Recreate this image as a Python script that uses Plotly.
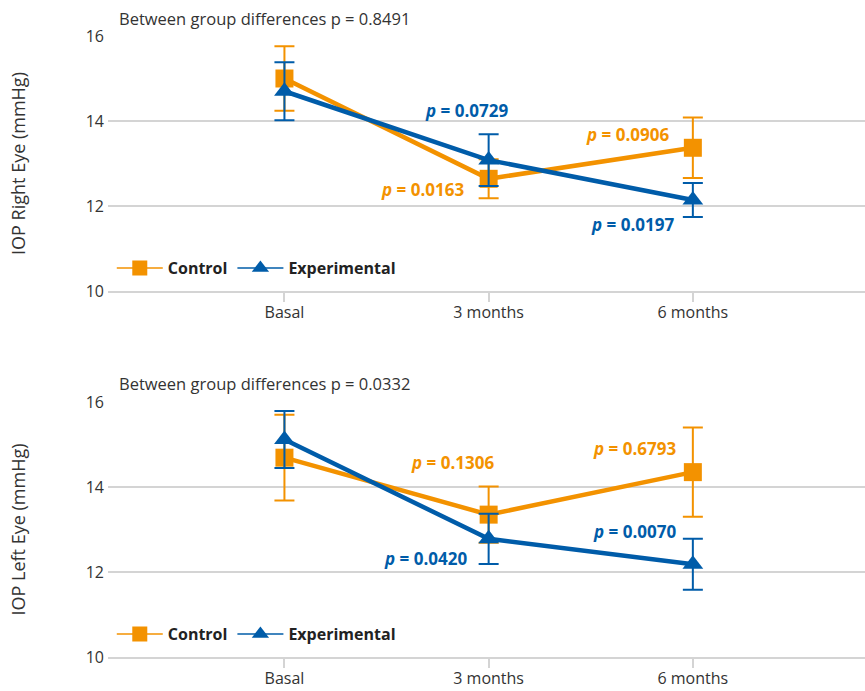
import plotly.graph_objects as go
from plotly.subplots import make_subplots

# Visit labels and positions on the numeric x axis
categories = ["Basal", "3 months", "6 months"]
cat_pos = [0, 1, 2]

# Right eye IOP (mmHg): mean and error
right_control = [15.00, 12.64, 13.37]
right_control_err = [0.76, 0.46, 0.71]
right_exp = [14.70, 13.08, 12.14]
right_exp_err = [0.68, 0.61, 0.40]

# Left eye IOP (mmHg): mean and error
left_control = [14.69, 13.35, 14.35]
left_control_err = [1.01, 0.66, 1.05]
left_exp = [15.12, 12.78, 12.18]
left_exp_err = [0.67, 0.59, 0.60]

# Within-group p values shown beside the points
right_control_p = ["0.0163", "0.0906"]
right_exp_p = ["0.0729", "0.0197"]
left_control_p = ["0.1306", "0.6793"]
left_exp_p = ["0.0420", "0.0070"]
between_p = ["0.8491", "0.0332"]

ORANGE = "#F39200"
BLUE = "#005CA9"
GRID = "#D4D4D4"
TEXT = "#333333"
FONT = "Open Sans"

fig = make_subplots(rows=2, cols=1, vertical_spacing=0.0)

def add_group(row, y, err, color, symbol, name, legend):
    fig.add_trace(go.Scatter(
        x=cat_pos, y=y, mode="lines+markers", name=name, showlegend=False,
        line=dict(color=color, width=4.5),
        marker=dict(symbol=symbol, size=18, color=color),
        error_y=dict(type="data", array=err, visible=True, color=color,
                     thickness=2, width=10),
    ), row=row, col=1)
    # thin legend entry
    fig.add_trace(go.Scatter(
        x=[None], y=[None], mode="lines+markers", name=name, showlegend=True,
        legend=legend,
        line=dict(color=color, width=1.5),
        marker=dict(symbol=symbol, size=15, color=color),
    ), row=row, col=1)

add_group(1, right_control, right_control_err, ORANGE, "square", "Control", "legend")
add_group(1, right_exp, right_exp_err, BLUE, "triangle-up", "Experimental", "legend")
add_group(2, left_control, left_control_err, ORANGE, "square", "Control", "legend2")
add_group(2, left_exp, left_exp_err, BLUE, "triangle-up", "Experimental", "legend2")

# layout geometry
fig.update_layout(
    width=865, height=691,
    margin=dict(l=108, r=0, t=36, b=34),
    paper_bgcolor="white", plot_bgcolor="white",
    font=dict(family=FONT, color=TEXT, size=16),
)
top_bottom = (657 - 291) / 621
bot_top = (657 - 402) / 621
fig.update_layout(
    yaxis=dict(domain=[top_bottom, 1.0]),
    yaxis2=dict(domain=[0.0, bot_top]),
)

for r in (1, 2):
    fig.update_xaxes(
        row=r, col=1, range=[-0.864, 2.843], tickvals=cat_pos, ticktext=categories,
        showgrid=False, zeroline=False, showline=True, linecolor=GRID, linewidth=1.5,
        ticks="outside", ticklen=9, tickcolor=GRID, tickwidth=1.5,
        ticklabelstandoff=-3,
        tickfont=dict(family=FONT, size=16, color=TEXT),
    )
    fig.update_yaxes(
        row=r, col=1, range=[10, 16], tickvals=[10, 12, 14, 16],
        showgrid=True, gridcolor=GRID, gridwidth=1.5, zeroline=False, showline=False,
        ticks="", ticklabelstandoff=3,
        tickfont=dict(family=FONT, size=16, color=TEXT),
        title=dict(text="IOP Right Eye (mmHg)" if r == 1 else "IOP Left Eye (mmHg)",
                   font=dict(family=FONT, size=18, color=TEXT), standoff=55),
    )

legend_style = dict(orientation="h", bgcolor="rgba(0,0,0,0)", xanchor="left",
                    yanchor="middle", xref="paper", yref="paper",
                    font=dict(family=FONT, size=16, color="#222222", weight="bold"),
                    itemwidth=46, tracegroupgap=0)
fig.update_layout(
    legend=dict(x=0.005, y=top_bottom + (291 - 268) / 621, **legend_style),
    legend2=dict(x=0.005, y=(657 - 634) / 621, **legend_style),
)

def p_label(text, x, y, color, xref, yref):
    fig.add_annotation(
        x=x, y=y, xref=xref, yref=yref, xanchor="right", yanchor="middle",
        text=f"<b><i>p</i> = {text}</b>", showarrow=False,
        font=dict(family=FONT, size=17, color=color),
    )

# right eye annotations
p_label(right_exp_p[0], 1.105, 14.25, BLUE, "x", "y")
p_label(right_control_p[0], 0.89, 12.38, ORANGE, "x", "y")
p_label(right_control_p[1], 1.892, 13.68, ORANGE, "x", "y")
p_label(right_exp_p[1], 1.917, 11.56, BLUE, "x", "y")
# left eye annotations
p_label(left_control_p[0], 1.037, 14.57, ORANGE, "x2", "y2")
p_label(left_exp_p[0], 0.905, 12.31, BLUE, "x2", "y2")
p_label(left_control_p[1], 1.927, 14.91, ORANGE, "x2", "y2")
p_label(left_exp_p[1], 1.927, 12.96, BLUE, "x2", "y2")

for i, (xr, yr) in enumerate([("x domain", "y domain"), ("x2 domain", "y2 domain")]):
    fig.add_annotation(
        x=0.012, y=1 + 18 / 255, xref=xr, yref=yr, xanchor="left", yanchor="middle",
        text=f"Between group differences p = {between_p[i]}", showarrow=False,
        font=dict(family=FONT, size=16.5, color=TEXT),
    )

fig.write_html("out.html")
